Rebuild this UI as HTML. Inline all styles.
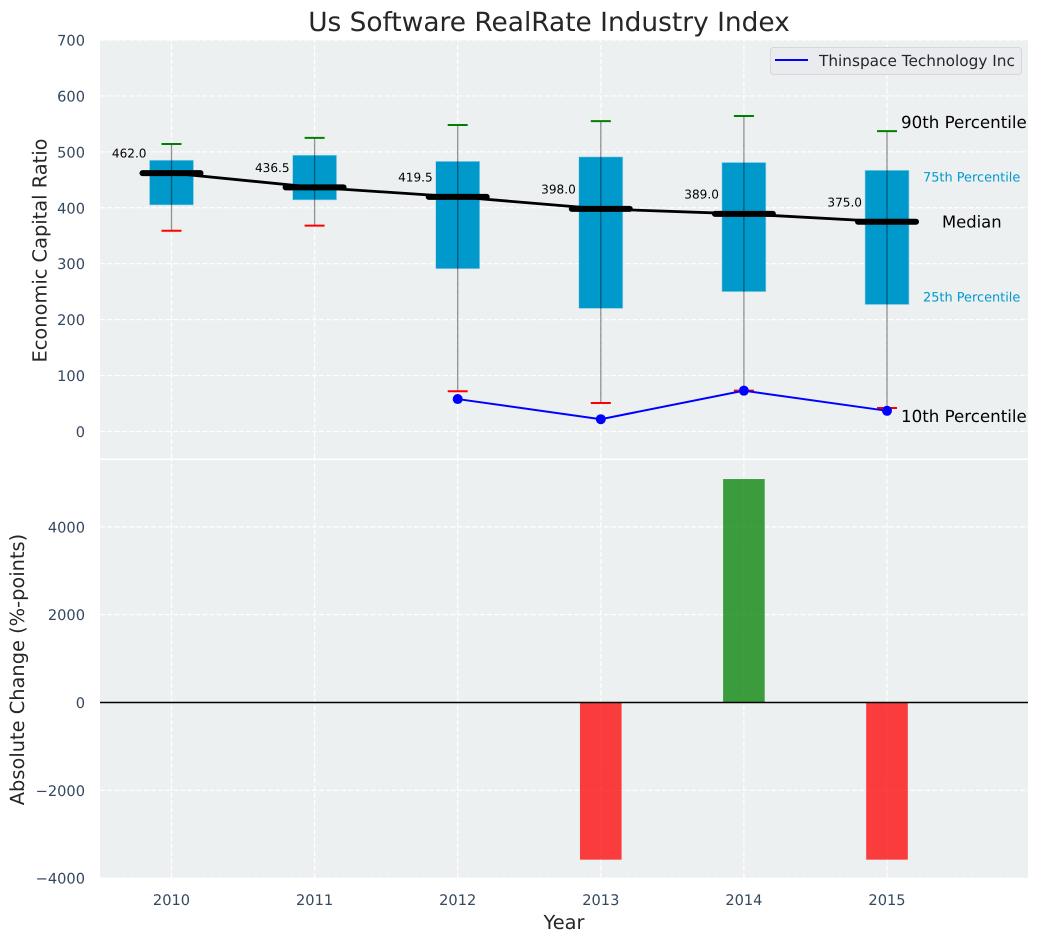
<!DOCTYPE html>
<html lang="en">
<head>
<meta charset="utf-8">
<title>Us Software RealRate Industry Index</title>
<style>
html,body{margin:0;padding:0;background:#fff;width:1039px;height:942px;overflow:hidden}
svg{display:block;font-family:"DejaVu Sans","Liberation Sans",sans-serif;text-rendering:geometricPrecision}
</style>
</head>
<body>
<svg id="chart" width="1039" height="942" viewBox="0 0 1039 942" xmlns="http://www.w3.org/2000/svg">
  <rect width="1039" height="942" fill="#ffffff"/>
  <rect x="100" y="40" width="928" height="418.5" fill="#ecf0f1"/>
  <rect x="100" y="460" width="928" height="418" fill="#ecf0f1"/>
  <g id="grid"></g>
  <g id="marks"></g>
  <g id="ticks"></g>
  <text x="549" y="31" font-size="26.4" fill="#262626" text-anchor="middle">Us Software RealRate Industry Index</text>
  <text transform="translate(46.5,250.5) rotate(-90)" font-size="19.4" fill="#262626" text-anchor="middle">Economic Capital Ratio</text>
  <text transform="translate(24,669.5) rotate(-90)" font-size="19.4" fill="#262626" text-anchor="middle">Absolute Change (%-points)</text>
  <text x="564" y="929" font-size="19.4" fill="#262626" text-anchor="middle">Year</text>
  <g>
    <rect x="770.5" y="47.5" width="251" height="27" rx="3" fill="#e9ebef" stroke="#d5d8db" stroke-width="1"/>
    <line x1="775" y1="60" x2="808" y2="60" stroke="#0000ff" stroke-width="2"/>
    <text x="819" y="66" font-size="15.3" fill="#262626">Thinspace Technology Inc</text>
  </g>
</svg>
<script>
// Chart data
const years = [2010, 2011, 2012, 2013, 2014, 2015];
const p10 = [359, 368, 72, 51, 73, 42];
const p25 = [405, 414, 291, 220, 250, 227];
const median = [462, 436.5, 419.5, 398, 389, 375];
const p75 = [485, 494, 483, 491, 481, 467];
const p90 = [514, 525, 548, 555, 564, 537];
const companyYears = [2012, 2013, 2014, 2015];
const companyValues = [58, 22, 73, 37];
const changeYears = [2013, 2014, 2015];
const changeValues = [-3580, 5090, -3580];
const topTicks = [0, 100, 200, 300, 400, 500, 600, 700];
const bottomTicks = [-4000, -2000, 0, 2000, 4000];

const NS = 'http://www.w3.org/2000/svg';
const x = v => 171.5 + (v - 2010) * 143.1;
const yTop = v => 431.5 - v * 0.5593;
const yBottom = v => 702.5 - v * 0.0439;
const grid = document.getElementById('grid');
const marks = document.getElementById('marks');
const ticks = document.getElementById('ticks');
const dash = {stroke: '#fff', 'stroke-width': 1.2, 'stroke-dasharray': '5.1 2.2'};

function make(tag, attrs, parent) {
  const node = document.createElementNS(NS, tag);
  for (const k in attrs) node.setAttribute(k, attrs[k]);
  parent.appendChild(node);
  return node;
}
const fmtTick = v => (v < 0 ? '\u2212' + Math.abs(v) : String(v));

// Grid and tick labels
years.forEach(yr => {
  const a = make('line', {x1: x(yr), x2: x(yr), y1: 458.5, y2: 40, ...dash}, grid);
  
  
  const b = make('line', {x1: x(yr), x2: x(yr), y1: 878, y2: 460, ...dash}, grid);
  
  
  const t = make('text', {x: x(yr), y: 905, 'font-size': 14.6, fill: '#34495e', 'text-anchor': 'middle'}, ticks);
  
  
  t.textContent = yr;
});
topTicks.forEach(v => {
  const l = make('line', {x1: 100, x2: 1028, y1: yTop(v), y2: yTop(v), ...dash}, grid);
  
  
  const t = make('text', {x: 85, y: yTop(v) + 5.5, 'font-size': 14.6, fill: '#34495e', 'text-anchor': 'end'}, ticks);
  
  
  t.textContent = fmtTick(v);
});
bottomTicks.forEach(v => {
  const l = make('line', {x1: 100, x2: 1028, y1: yBottom(v), y2: yBottom(v), ...dash}, grid);
  
  
  const t = make('text', {x: 85, y: yBottom(v) + 5.5, 'font-size': 14.6, fill: '#34495e', 'text-anchor': 'end'}, ticks);
  
  
  t.textContent = fmtTick(v);
});

// Boxes
years.forEach((yr, i) => {
  const box = make('rect', {x: x(yr) - 22, y: yTop(p75[i]), width: 44, height: yTop(p25[i]) - yTop(p75[i]), fill: '#0099cc', stroke: '#a6d8e8', 'stroke-width': 0.6}, marks);
  
  
});
// Whiskers and caps
years.forEach((yr, i) => {
  const w = make('line', {x1: x(yr), x2: x(yr), y1: yTop(p90[i]), y2: yTop(p10[i]), stroke: '#000', 'stroke-opacity': 0.42, 'stroke-width': 1.3}, marks);
  
  
  const c1 = make('line', {x1: x(yr) - 10, x2: x(yr) + 10, y1: yTop(p90[i]), y2: yTop(p90[i]), stroke: '#008000', 'stroke-width': 2}, marks);
  
  
  const c2 = make('line', {x1: x(yr) - 10, x2: x(yr) + 10, y1: yTop(p10[i]), y2: yTop(p10[i]), stroke: '#ff0000', 'stroke-width': 2}, marks);
  
  
});
// Median trend
const medianPath = make('polyline', {points: years.map((yr, i) => x(yr) + ',' + yTop(median[i])).join(' '), fill: 'none', stroke: '#000', 'stroke-width': 2.8}, marks);


years.forEach((yr, i) => {
  const m = make('line', {x1: x(yr) - 29, x2: x(yr) + 29, y1: yTop(median[i]), y2: yTop(median[i]), stroke: '#000', 'stroke-width': 6, 'stroke-linecap': 'round'}, marks);
  
  
  const t = make('text', {x: x(yr) - 25, y: yTop(median[i]) - 15.5, 'font-size': 12.1, fill: '#000', 'text-anchor': 'end'}, marks);
  
  
  t.textContent = median[i].toFixed(1);
});
// Company line
const companyLine = make('polyline', {points: companyYears.map((yr, i) => x(yr) + ',' + yTop(companyValues[i])).join(' '), fill: 'none', stroke: '#0000ff', 'stroke-width': 2}, marks);


companyYears.forEach((yr, i) => {
  const p = make('circle', {cx: x(yr), cy: yTop(companyValues[i]), r: 5, fill: '#0000ff'}, marks);
  
  
});
// Change bars
changeYears.forEach((yr, i) => {
  const v = changeValues[i];
  const y0 = yBottom(Math.max(v, 0));
  const bar = make('rect', {x: x(yr) - 20.8, y: y0, width: 41.6, height: Math.abs(yBottom(v) - yBottom(0)), fill: v >= 0 ? '#008000' : '#ff0000', 'fill-opacity': 0.75}, marks);
  
  
});
const zero = make('line', {x1: 100, x2: 1028, y1: yBottom(0), y2: yBottom(0), stroke: '#000', 'stroke-width': 1.4}, marks);



// Percentile annotations anchored to the final year
const last = years.length - 1;
const lx = x(years[last]);
const a90 = make('text', {x: lx + 14, y: yTop(p90[last]) - 3, 'font-size': 16.67, fill: '#000'}, marks);


a90.textContent = '90th Percentile';
const a75 = make('text', {x: lx + 36, y: yTop(p75[last]) + 11, 'font-size': 12.9, fill: '#0099cc'}, marks);


a75.textContent = '75th Percentile';
const aMed = make('text', {x: lx + 55, y: yTop(median[last]) + 5.5, 'font-size': 16.4, fill: '#000'}, marks);


aMed.textContent = 'Median';
const a25 = make('text', {x: lx + 36, y: yTop(p25[last]) - 3, 'font-size': 12.9, fill: '#0099cc'}, marks);


a25.textContent = '25th Percentile';
const a10 = make('text', {x: lx + 14, y: yTop(p10[last]) + 14, 'font-size': 16.67, fill: '#000'}, marks);


a10.textContent = '10th Percentile';
</script>
</body>
</html>
